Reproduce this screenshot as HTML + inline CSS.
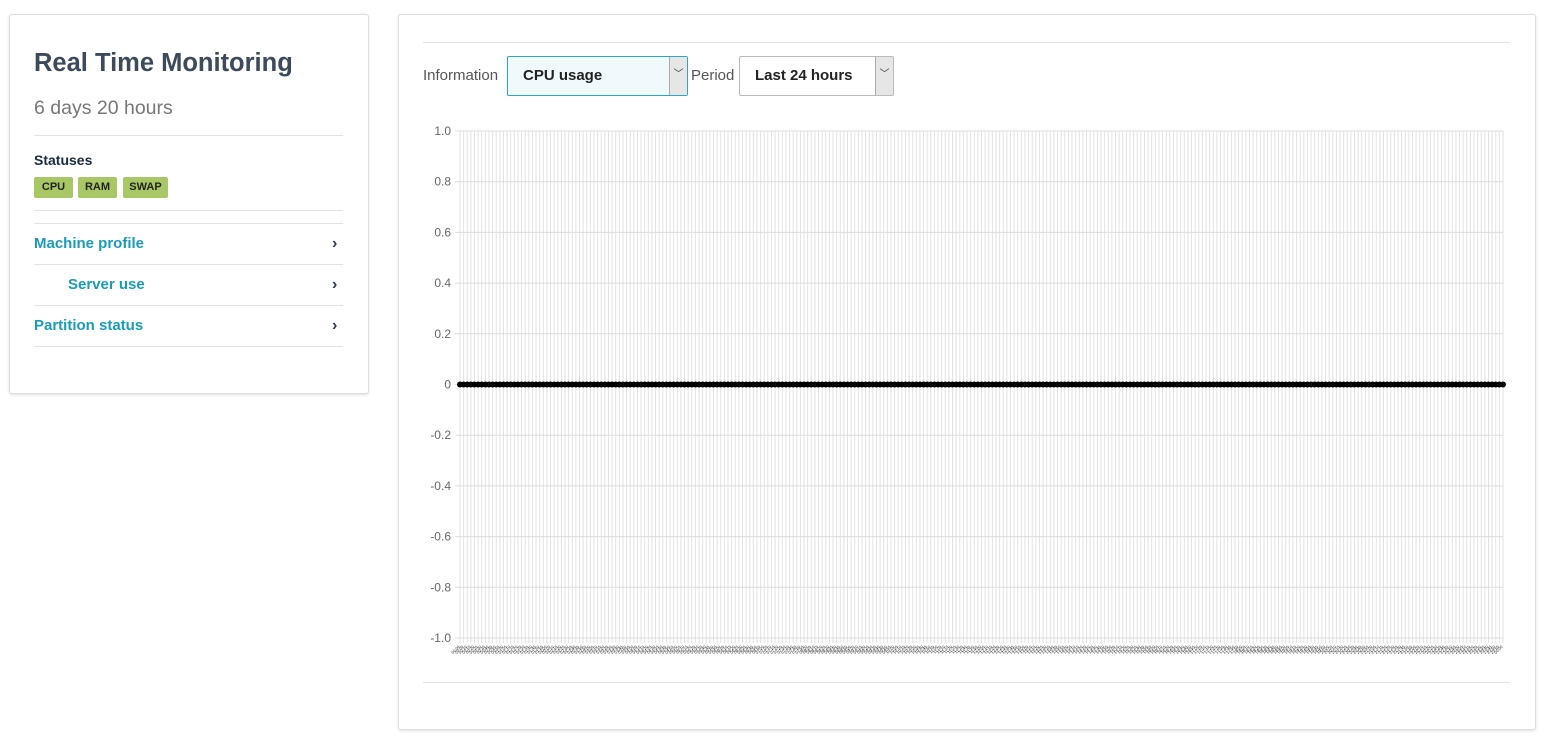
<!DOCTYPE html>
<html><head><meta charset="utf-8"><style>
body{margin:0;background:#fff;font-family:"Liberation Sans",sans-serif;width:1561px;height:749px;overflow:hidden;position:relative}
.card{position:absolute;background:#fff;border:1px solid #ddd;border-radius:3px;box-shadow:0 1px 3px rgba(0,0,0,.12)}
.h1{position:absolute;left:24px;top:34px;font-size:25.5px;font-weight:bold;color:#3d4a5c}
.sub{position:absolute;left:24px;top:82px;font-size:19.5px;color:#777}
.hr{position:absolute;left:24px;width:309px;height:1px;background:#e3e3e3}
.badge{position:absolute;top:162px;height:21px;background:#a8c866;border-radius:2px;font-size:11px;font-weight:bold;color:#222;line-height:21px;text-align:center}
.link{position:absolute;font-size:15px;font-weight:bold;color:#1a9bb8}
.chev{position:absolute;left:322px;font-size:16px;color:#1f3a5c;font-weight:bold}
.sel{position:absolute;top:56px;height:40px;border:1px solid #bbb;border-radius:2px;font-size:15px;font-weight:bold;color:#222;line-height:38px;padding-left:15px;box-sizing:border-box}
.arr{position:absolute;right:0;top:0;width:17px;height:38px;background:#e6e6e6;border-left:1px solid #aaa;font-size:10px;text-align:center;line-height:36px;color:#333;font-weight:normal}
.lbl{position:absolute;top:67px;font-size:15px;color:#555}
</style></head><body>
<div class="card" style="left:9px;top:14px;width:358px;height:378px">
<div class="h1">Real Time Monitoring</div>
<div class="sub">6 days 20 hours</div>
<div class="hr" style="top:120px"></div>
<div style="position:absolute;left:24px;top:137px;font-size:14px;font-weight:bold;color:#1a2a40">Statuses</div>
<div class="badge" style="left:24px;width:39px">CPU</div>
<div class="badge" style="left:68px;width:39px">RAM</div>
<div class="badge" style="left:113px;width:45px">SWAP</div>
<div class="hr" style="top:195px"></div>
<div class="hr" style="top:208px"></div>
<div class="link" style="left:24px;top:220px">Machine profile</div><div class="chev" style="top:220px">›</div>
<div class="hr" style="top:249px"></div>
<div class="link" style="left:58px;top:261px">Server use</div><div class="chev" style="top:261px">›</div>
<div class="hr" style="top:290px"></div>
<div class="link" style="left:24px;top:302px">Partition status</div><div class="chev" style="top:302px">›</div>
<div class="hr" style="top:331px"></div>
</div>
<div class="card" style="left:398px;top:14px;width:1136px;height:714px"></div>
<div style="position:absolute;left:423px;top:42px;width:1087px;height:1px;background:#e3e3e3"></div>
<div style="position:absolute;left:423px;top:682px;width:1087px;height:1px;background:#e3e3e3"></div>
<div class="lbl" style="left:423px">Information</div>
<div class="sel" style="left:507px;width:181px;background:#f0fafd;border-color:#2aa7c7">CPU usage<div class="arr">﹀</div></div>
<div class="lbl" style="left:691px">Period</div>
<div class="sel" style="left:739px;width:155px">Last 24 hours<div class="arr">﹀</div></div>
<svg id="chart" width="1561" height="749" style="position:absolute;left:0;top:0"></svg>
<script>
const yTicks=[1.0,0.8,0.6,0.4,0.2,0,-0.2,-0.4,-0.6,-0.8,-1.0];
const yTickLabels=["1.0","0.8","0.6","0.4","0.2","0","-0.2","-0.4","-0.6","-0.8","-1.0"];
const categories=[];for(let i=0;i<289;i++){const m=i*5;categories.push(String(Math.floor(m/60)%24).padStart(2,'0')+':'+String(m%60).padStart(2,'0'));}
const cpuValues=new Array(289).fill(0);
const svg=document.getElementById('chart');const NS='http://www.w3.org/2000/svg';
const X0=460,X1=1503,Y0=131,Y1=638;
const x=i=>X0+(X1-X0)*i/(categories.length-1);
const y=v=>Y0+(1-v)/2*(Y1-Y0);
function mk(t,a){const e=document.createElementNS(NS,t);for(const k in a)e.setAttribute(k,a[k]);svg.appendChild(e);return e;}
categories.forEach((c,i)=>{const l=mk('line',{x1:x(i),x2:x(i),y1:Y0,y2:Y1+5,stroke:'#e2e2e2','stroke-width':1});


const t=mk('text',{x:x(i),y:Y1+9,'font-size':'4','fill':'#222','text-anchor':'end',transform:`rotate(-45 ${x(i)} ${Y1+9})`});t.textContent=c;

});
yTicks.forEach((v,i)=>{const l=mk('line',{x1:X0-5,x2:X1,y1:y(v),y2:y(v),stroke:'#dcdcdc','stroke-width':1});


const t=mk('text',{x:X0-9,y:y(v)+4,'font-size':'12','fill':'#666','text-anchor':'end','font-family':'Liberation Sans'});t.textContent=yTickLabels[i];

});
const p=mk('polyline',{points:cpuValues.map((v,i)=>x(i)+','+y(v)).join(' '),fill:'none',stroke:'#000','stroke-width':3});


cpuValues.forEach((v,i)=>{const c=mk('circle',{cx:x(i),cy:y(v),r:3,fill:'#000'});

});
</script>
</body></html>
